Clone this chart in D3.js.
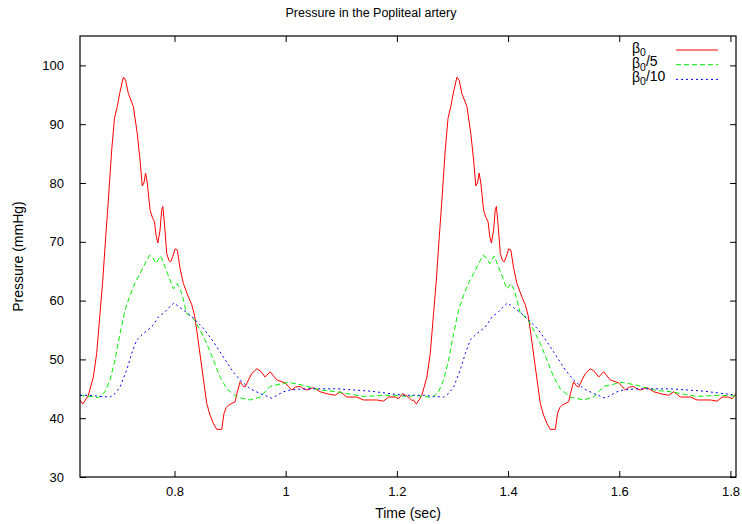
<!DOCTYPE html>
<html lang="en">
<head>
<meta charset="UTF-8">
<title>Pressure in the Popliteal artery</title>
<style>
  body { margin: 0; background: #fff; }
  svg text { font-family: "Liberation Sans", Arial, sans-serif; fill: #000; }
</style>
</head>
<body>
<div id="chart"></div>
<script src="https://cdnjs.cloudflare.com/ajax/libs/d3/7.8.5/d3.min.js"></script>
<script>
// one cardiac cycle (sec, mmHg); the picture shows it twice, 0.6 s apart
const period = 0.6;
const cycles = [0, 1];

const redTime = [0.630, 0.635, 0.645, 0.654, 0.660, 0.666, 0.671, 0.676, 0.681, 0.687, 0.692, 0.697, 0.702, 0.708, 0.712, 0.717,
  0.726, 0.733, 0.738, 0.742, 0.745, 0.748, 0.751, 0.756, 0.760, 0.764, 0.767, 0.770, 0.774, 0.777, 0.779, 0.782, 0.786,
  0.790, 0.793, 0.797, 0.801, 0.805, 0.810, 0.816, 0.825, 0.831, 0.836, 0.840, 0.849, 0.858, 0.864, 0.870, 0.876, 0.885,
  0.889, 0.893, 0.897, 0.909, 0.913, 0.918, 0.923, 0.927, 0.933, 0.939, 0.948, 0.955, 0.963, 0.972, 0.978, 0.984, 0.999,
  1.011, 1.018, 1.026, 1.032, 1.038, 1.050, 1.062, 1.077, 1.089, 1.098, 1.110, 1.128, 1.140, 1.164, 1.176, 1.185, 1.197,
  1.203, 1.210, 1.221, 1.227];
const redValues = [43.1, 42.4, 43.9, 47.0, 51.0, 57.8, 63.5, 70.5, 77.1, 85.6, 91.0, 93.0, 95.5, 98.0, 97.5, 95.2,
  93.0, 88.4, 83.9, 79.5, 80.0, 81.7, 80.0, 75.4, 74.2, 73.4, 71.0, 69.8, 72.0, 75.5, 76.0, 73.0, 68.0,
  66.8, 66.6, 67.5, 68.8, 68.6, 65.5, 62.9, 60.6, 59.3, 57.5, 55.0, 48.7, 42.5, 40.5, 39.1, 38.1, 38.1,
  40.8, 41.8, 42.2, 42.8, 44.5, 46.2, 45.5, 45.3, 46.5, 47.6, 48.4, 48.0, 47.0, 47.9, 47.2, 46.5, 46.0,
  44.8, 45.3, 45.4, 45.0, 44.8, 45.2, 44.5, 44.1, 43.9, 44.5, 43.6, 43.6, 43.1, 43.1, 42.9, 43.6, 43.6,
  43.3, 44.2, 43.6, 43.0];

const greenTime = [0.630, 0.648, 0.663, 0.675, 0.684, 0.693, 0.702, 0.711, 0.720, 0.729, 0.738, 0.747, 0.755, 0.761,
  0.767, 0.775, 0.783, 0.792, 0.798, 0.805, 0.811, 0.817, 0.822, 0.834, 0.846, 0.858, 0.870, 0.882, 0.894, 0.912,
  0.936, 0.954, 0.972, 0.990, 1.005, 1.032, 1.062, 1.092, 1.140, 1.182, 1.224];
const greenValues = [43.9, 43.7, 43.5, 44.5, 46.5, 49.9, 54.4, 58.4, 60.9, 63.0, 64.6, 66.3, 67.7, 67.3,
  66.3, 67.6, 65.7, 63.5, 62.0, 62.9, 61.8, 59.8, 57.8, 57.0, 55.0, 52.7, 49.9, 47.0, 45.0, 43.6,
  43.1, 43.6, 45.4, 45.8, 46.1, 45.6, 44.8, 44.5, 43.7, 43.9, 43.7];

const blueTime = [0.630, 0.648, 0.666, 0.684, 0.693, 0.702, 0.714, 0.723, 0.732, 0.744, 0.759, 0.771, 0.783, 0.792,
  0.799, 0.810, 0.822, 0.834, 0.852, 0.870, 0.888, 0.903, 0.918, 0.936, 0.954, 0.975, 0.996, 1.008, 1.032, 1.092,
  1.152, 1.212, 1.228];
const blueValues = [43.9, 43.9, 43.7, 43.6, 44.2, 45.3, 48.2, 51.0, 53.3, 54.4, 55.5, 57.2, 58.1, 59.0,
  59.6, 58.8, 58.0, 57.0, 55.3, 53.0, 50.4, 48.2, 46.5, 45.0, 44.2, 43.4, 44.5, 44.8, 45.0, 45.0,
  44.6, 43.9, 43.9];

const xTicks = [0.8, 1, 1.2, 1.4, 1.6, 1.8];
const yTicks = [30, 40, 50, 60, 70, 80, 90, 100];

const series = [
  { label: 'β0', sub: '', time: redTime, values: redValues, color: '#ff0000', dash: null },
  { label: 'β0', sub: '/5', time: greenTime, values: greenValues, color: '#00ee00', dash: '5,3' },
  { label: 'β0', sub: '/10', time: blueTime, values: blueValues, color: '#0000ff', dash: '2,3' }
];

const w = 742, h = 524;
const margin = { left: 80, right: 6, top: 36, bottom: 47 };

const svg = d3.select('#chart').append('svg')
  .attr('width', w)
  .attr('height', h);

const xScale = d3.scaleLinear().domain([0.63, 1.81]).range([margin.left, w - margin.right]);
const yScale = d3.scaleLinear().domain([30, 105]).range([h - margin.bottom, margin.top]);

svg.append('clipPath').attr('id', 'clip')
  .append('rect')
  .attr('x', margin.left).attr('y', margin.top)
  .attr('width', w - margin.right - margin.left)
  .attr('height', h - margin.bottom - margin.top);

// curves
const line = d3.line().x(d => xScale(d.t)).y(d => yScale(d.v));
series.forEach(s => {
  const pts = [];
  cycles.forEach(c => {
    s.time.forEach((t, i) => pts.push({ t: t + c * period, v: s.values[i] }));
  });
  svg.append('path')
    .datum(pts)
    .attr('clip-path', 'url(#clip)')
    .attr('fill', 'none')
    .attr('stroke', s.color)
    .attr('stroke-width', 1)
    .attr('stroke-dasharray', s.dash)
    .attr('d', line);
});

// axes, gnuplot style: ticks inward on all four sides
const fmt = d => d3.format('~g')(d);
const tick = 6;
svg.append('g')
  .attr('transform', `translate(0,${h - margin.bottom})`)
  .call(d3.axisBottom(xScale).tickValues(xTicks).tickFormat(fmt).tickSizeInner(-tick).tickSizeOuter(0).tickPadding(10));
svg.append('g')
  .attr('transform', `translate(0,${margin.top})`)
  .call(d3.axisTop(xScale).tickValues(xTicks).tickFormat('').tickSizeInner(-tick).tickSizeOuter(0));
svg.append('g')
  .attr('transform', `translate(${margin.left},0)`)
  .call(d3.axisLeft(yScale).tickValues(yTicks).tickSizeInner(-tick).tickSizeOuter(0).tickPadding(16));
svg.append('g')
  .attr('transform', `translate(${w - margin.right},0)`)
  .call(d3.axisRight(yScale).tickValues(yTicks).tickFormat('').tickSizeInner(-tick).tickSizeOuter(0));

svg.selectAll('.domain').remove();
svg.selectAll('.tick text').attr('font-size', 13).attr('fill', '#000');
svg.selectAll('.tick line').attr('stroke', '#000');

svg.append('rect')
  .attr('x', margin.left).attr('y', margin.top)
  .attr('width', w - margin.right - margin.left)
  .attr('height', h - margin.bottom - margin.top)
  .attr('fill', 'none')
  .attr('stroke', '#000')
  .attr('stroke-width', 1.2);

// titles
svg.append('text')
  .attr('x', w / 2).attr('y', 17)
  .attr('text-anchor', 'middle')
  .attr('font-size', 12.5)
  .text('Pressure in the Popliteal artery');
svg.append('text')
  .attr('x', (margin.left + w - margin.right) / 2).attr('y', 518)
  .attr('text-anchor', 'middle')
  .attr('font-size', 14)
  .text('Time (sec)');
svg.append('text')
  .attr('transform', `translate(23,${(margin.top + h - margin.bottom) / 2}) rotate(-90)`)
  .attr('text-anchor', 'middle')
  .attr('font-size', 14)
  .text('Pressure (mmHg)');

// legend
const legend = svg.append('g').selectAll('g')
  .data(series)
  .enter()
  .append('g')
  .attr('transform', (d, i) => `translate(0,${50 + i * 14.7})`);
legend.append('line')
  .attr('x1', 676).attr('x2', 718)
  .attr('stroke', d => d.color)
  .attr('stroke-dasharray', d => d.dash);
const lt = legend.append('text')
  .attr('x', 632).attr('y', 0)
  .attr('dy', '0.2em')
  .attr('font-size', 14)
  .attr('letter-spacing', 0);
lt.append('tspan').text('β');
lt.append('tspan').attr('font-size', 10.5).attr('dy', '0.3em').text('0');
lt.append('tspan').attr('dy', '-0.3em').text(d => d.sub);
</script>
</body>
</html>
